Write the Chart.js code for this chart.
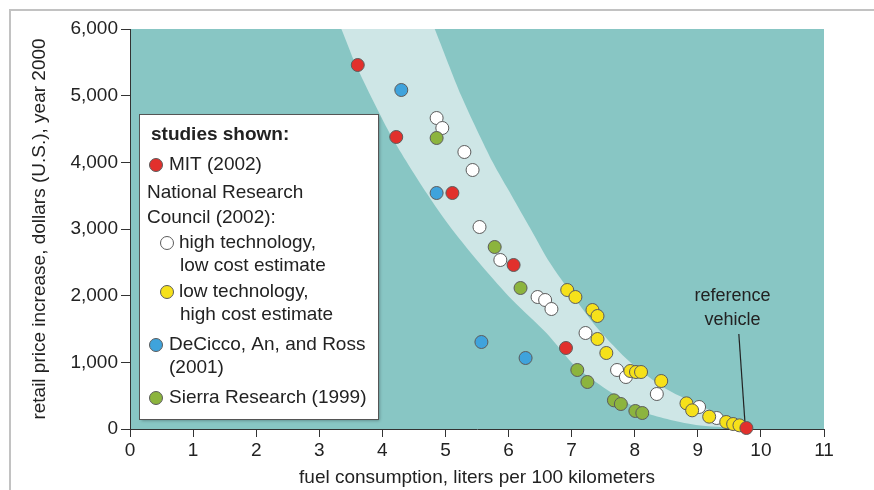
<!DOCTYPE html>
<html><head><meta charset="utf-8">
<script src="https://cdn.jsdelivr.net/npm/chart.js@4"></script>
<style>html,body{margin:0;padding:0;background:#fff}#wrap{width:874px;height:490px;position:relative}canvas{display:block}</style>
</head><body><div id="wrap"><canvas id="c" width="874" height="490"></canvas></div>
<script>
// ---------- data ----------
const xTickValues = [0,1,2,3,4,5,6,7,8,9,10,11];
const yTickValues = [0,1000,2000,3000,4000,5000,6000];

const mitX = [3.61, 4.22, 5.11, 6.08, 6.91, 9.77];
const mitY = [5460, 4380, 3540, 2460, 1215, 15];

const nrcHighX = [4.86, 4.95, 5.30, 5.43, 5.54, 5.87, 6.46, 6.58, 6.68, 7.22, 7.72, 7.86, 8.35, 9.02, 9.30];
const nrcHighY = [4665, 4515, 4155, 3885, 3030, 2535, 1980, 1935, 1800, 1440, 885, 780, 525, 330, 165];

const nrcLowX = [6.93, 7.06, 7.33, 7.41, 7.41, 7.55, 7.93, 8.02, 8.10, 8.42, 8.82, 8.91, 9.18, 9.45, 9.56, 9.66];
const nrcLowY = [2085, 1980, 1785, 1695, 1350, 1140, 870, 855, 855, 720, 385, 280, 185, 105, 75, 55];

const decX = [4.30, 4.86, 5.57, 6.27];
const decY = [5085, 3540, 1305, 1065];

const sierraX = [4.86, 5.78, 6.19, 7.09, 7.25, 7.67, 7.78, 8.01, 8.12];
const sierraY = [4365, 2730, 2115, 885, 705, 430, 375, 270, 240];

// band outline: upper edge top->bottom, then lower edge bottom->top
const bandX = [4.61, 4.83, 5.25, 5.75, 6.05, 6.35, 6.65, 7.02, 7.42, 7.93, 8.50, 9.15, 9.55, 9.82,
               9.65, 8.97, 8.18, 7.64, 7.07, 6.60, 6.06, 5.59, 5.10, 4.70, 4.15, 3.58, 3.35, 3.10];
const bandY = [6500, 6000, 5000, 4000, 3500, 3000, 2500, 2000, 1500, 1000, 600, 300, 100, 0,
               15, 60, 240, 540, 930, 1440, 1935, 2430, 3000, 3540, 4380, 5460, 6000, 6500];

// reference vehicle pointer line
const refLineX = [9.65, 9.75];
const refLineY = [1425, 60];
const refText = ['reference', 'vehicle'];
const refTextX = 9.55;
const refTextY = [1990, 1640];

const legendTitle = 'studies shown:';
const legendItems = [
  {text:['MIT (2002)'], color:'#e2302c', indent:0},
  {text:['National Research','Council (2002):'], color:null, indent:0},
  {text:['high technology,','low cost estimate'], color:'#ffffff', indent:1},
  {text:['low technology,','high cost estimate'], color:'#f6e11a', indent:1},
  {text:['DeCicco, An, and Ross','(2001)'], color:'#3fa3dc', indent:0},
  {text:['Sierra Research (1999)'], color:'#8cb43e', indent:0}
];

const xTitle = 'fuel consumption, liters per 100 kilometers';
const yTitle = 'retail price increase, dollars (U.S.), year 2000';

// ---------- build ----------
const FONT = "'Liberation Sans', Arial, Helvetica, sans-serif";
const TXT = '#222';
const zip = (xs, ys) => xs.map((x, i) => ({x, y: ys[i]}));
const dot = (label, xs, ys, color, order) => ({
  label, data: zip(xs, ys), showLine: false, pointRadius: 6.5, pointBackgroundColor: color,
  pointBorderColor: '#5c5c5c', pointBorderWidth: 1, clip: false, order
});

const bgPlugin = {
  id: 'bg',
  beforeDraw(chart) {
    const {ctx, chartArea: a} = chart;
    ctx.save();
    ctx.fillStyle = '#fff'; ctx.fillRect(0, 0, chart.width, chart.height);
    ctx.strokeStyle = '#c2c2c2'; ctx.lineWidth = 2;
    ctx.beginPath(); ctx.moveTo(10, 490); ctx.lineTo(10, 10); ctx.lineTo(874, 10); ctx.stroke();
    ctx.fillStyle = '#88c6c4';
    ctx.fillRect(a.left, a.top, a.right - a.left, a.bottom - a.top);
    ctx.restore();
  }
};

const overlayPlugin = {
  id: 'overlay',
  afterDatasetsDraw(chart) {
    const {ctx} = chart;
    const xs = chart.scales.x, ys = chart.scales.y;
    ctx.save();
    // reference text
    ctx.fillStyle = TXT; ctx.font = '18px ' + FONT;
    ctx.textAlign = 'center'; ctx.textBaseline = 'middle';
    refText.forEach((t, i) => ctx.fillText(t, xs.getPixelForValue(refTextX), ys.getPixelForValue(refTextY[i])));

    // legend box
    const bx = 139, by = 114, bw = 239, bh = 305;
    ctx.save();
    ctx.shadowColor = 'rgba(0,0,0,0.35)'; ctx.shadowBlur = 3; ctx.shadowOffsetX = 1.5; ctx.shadowOffsetY = 1.5;
    ctx.fillStyle = '#fff'; ctx.fillRect(bx, by, bw, bh);
    ctx.restore();
    ctx.strokeStyle = '#555'; ctx.lineWidth = 1;
    ctx.strokeRect(bx + 0.5, by + 0.5, bw, bh);

    ctx.textAlign = 'left'; ctx.textBaseline = 'middle';
    ctx.font = 'bold 19px ' + FONT; ctx.fillStyle = TXT;
    ctx.fillText(legendTitle, 151, 135);
    ctx.font = '19px ' + FONT;
    const rows = [[165], [193, 218], [243, 266], [292, 315], [345, 368], [398]];
    legendItems.forEach((it, i) => {
      const cx = it.indent ? 167 : 156;
      const tx = it.color ? (it.indent ? 179 : 169) : 147;
      if (it.color) {
        ctx.beginPath(); ctx.arc(cx, rows[i][0], 6.5, 0, Math.PI * 2);
        ctx.fillStyle = it.color; ctx.fill();
        ctx.strokeStyle = '#5c5c5c'; ctx.lineWidth = 1; ctx.stroke();
      }
      ctx.fillStyle = TXT;
      it.text.forEach((t, j) => ctx.fillText(t, tx + (j > 0 && it.indent ? 1 : 0), rows[i][j]));
    });
    ctx.restore();
  }
};

new Chart(document.getElementById('c'), {
  type: 'scatter',
  data: {
    datasets: [
      dot('MIT (2002)', mitX, mitY, '#e2302c', 1),
      dot('DeCicco, An, and Ross (2001)', decX, decY, '#3fa3dc', 2),
      dot('Sierra Research (1999)', sierraX, sierraY, '#8cb43e', 3),
      dot('NRC low technology', nrcLowX, nrcLowY, '#f6e11a', 4),
      dot('NRC high technology', nrcHighX, nrcHighY, '#ffffff', 5),
      {label: 'pointer', data: zip(refLineX, refLineY), showLine: true, pointRadius: 0,
       borderColor: '#222', borderWidth: 1.2, order: 6, clip: false},
      {label: 'band', data: zip(bandX, bandY), showLine: true, pointRadius: 0, borderWidth: 0,
       borderColor: 'rgba(0,0,0,0)', backgroundColor: '#cee6e6', fill: 'shape', tension: 0.25, order: 7}
    ]
  },
  options: {
    responsive: false, animation: false, events: [],
    layout: {padding: {top: 29, right: 50, left: 0, bottom: 0}},
    plugins: {legend: {display: false}, tooltip: {enabled: false}},
    scales: {
      x: {
        type: 'linear', min: 0, max: 11,
        afterFit: s => { s.height = 61; },
        afterBuildTicks: s => { s.ticks = xTickValues.map(v => ({value: v})); },
        ticks: {color: TXT, font: {family: FONT, size: 19}, padding: 2, maxRotation: 0,
                callback: v => String(v)},
        grid: {drawOnChartArea: false, drawTicks: true, tickLength: 8, color: '#333', lineWidth: 1},
        border: {display: true, color: '#333', width: 1},
        title: {display: true, text: xTitle, color: TXT, font: {family: FONT, size: 19}, padding: {top: 0, bottom: 1}}
      },
      y: {
        type: 'linear', min: 0, max: 6000,
        afterFit: s => { s.width = 130; },
        afterBuildTicks: s => { s.ticks = yTickValues.map(v => ({value: v})); },
        ticks: {color: TXT, font: {family: FONT, size: 19}, padding: 3,
                callback: v => Number(v).toLocaleString('en-US')},
        grid: {drawOnChartArea: false, drawTicks: true, tickLength: 9, color: '#333', lineWidth: 1},
        border: {display: true, color: '#333', width: 1},
        title: {display: true, text: yTitle, color: TXT, font: {family: FONT, size: 19}, padding: {top: 28, bottom: 0}}
      }
    }
  },
  plugins: [bgPlugin, overlayPlugin]
});
</script></body></html>
